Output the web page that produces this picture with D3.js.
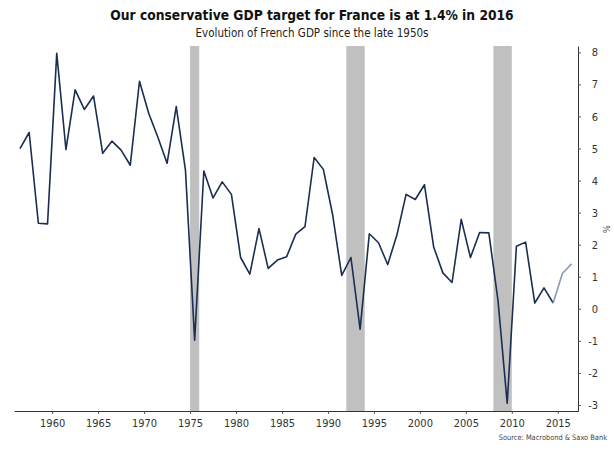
<!DOCTYPE html>
<html>
<head>
<meta charset="utf-8">
<script src="https://cdn.jsdelivr.net/npm/d3@7"></script>
<style>
  body { margin: 0; background: #fff; }
  text { font-family: "DejaVu Sans Condensed", "DejaVu Sans", sans-serif; }
</style>
</head>
<body>
<div id="chart"></div>
<script>
// annual French GDP growth, %
var years = d3.range(1956, 2017);
var gdp = [5.0, 5.5, 2.67, 2.65, 7.97, 4.97, 6.83, 6.22, 6.64, 4.85,
           5.23, 4.95, 4.48, 7.1, 6.1, 5.35, 4.54, 6.31, 4.33, -0.98,
           4.3, 3.46, 3.96, 3.57, 1.6, 1.08, 2.5, 1.26, 1.52, 1.62,
           2.33, 2.56, 4.72, 4.35, 2.95, 1.04, 1.6, -0.64, 2.34, 2.06,
           1.38, 2.3, 3.57, 3.41, 3.87, 1.93, 1.12, 0.82, 2.79, 1.6,
           2.38, 2.37, 0.25, -2.95, 1.95, 2.08, 0.18, 0.65, 0.18, 1.1,
           1.4];
// years from 2014 on are the target (lighter line)
var forecastFrom = 2014;
// recession bands [start, end]
var recessions = [[1975, 1976], [1992, 1994], [2008, 2010]];
var xTicks = [1960, 1965, 1970, 1975, 1980, 1985, 1990, 1995, 2000, 2005, 2010, 2015];
var yTicks = [-3, -2, -1, 0, 1, 2, 3, 4, 5, 6, 7, 8];

var W = 614, H = 450;
var svg = d3.select("#chart").append("svg")
    .attr("width", W)
    .attr("height", H);

var x = d3.scaleLinear()
    .domain([1955.85, 2017.2])
    .range([14, 578]);
var y = d3.scaleLinear()
    .domain([-3.19, 8.2])
    .range([411, 46]);

var data = years.map(function(yr, i) { return {year: yr, v: gdp[i]}; });

// recession shading
svg.append("g")
  .selectAll("rect")
  .data(recessions)
  .enter().append("rect")
    .attr("x", function(d) { return x(d[0]); })
    .attr("width", function(d) { return x(d[1]) - x(d[0]); })
    .attr("y", y.range()[1])
    .attr("height", y.range()[0] - y.range()[1])
    .attr("fill", "#c0c0c0");

// points sit in the middle of each year
var line = d3.line()
    .x(function(d) { return x(d.year + 0.5); })
    .y(function(d) { return y(d.v); });

svg.append("path")
    .datum(data.filter(function(d) { return d.year <= forecastFrom; }))
    .attr("fill", "none")
    .attr("stroke", "#1b2d52")
    .attr("stroke-width", 1.6)
    .attr("stroke-linejoin", "round")
    .attr("d", line);

svg.append("path")
    .datum(data.filter(function(d) { return d.year >= forecastFrom; }))
    .attr("fill", "none")
    .attr("stroke", "#8a9bb3")
    .attr("stroke-width", 1.6)
    .attr("stroke-linejoin", "round")
    .attr("d", line);

// x axis
var gx = svg.append("g")
    .attr("transform", "translate(0," + y.range()[0] + ")")
    .call(d3.axisBottom(x).tickValues(xTicks).tickSize(3).tickSizeOuter(0)
      .tickFormat(function(d) { return String(d); }));
gx.select(".domain").attr("stroke", "#333");
gx.selectAll(".tick line").attr("stroke", "#555");
gx.selectAll(".tick text")
    .attr("y", 8)
    .style("font-size", "11px")
    .attr("fill", "#333");

// y axis on the right
var gy = svg.append("g")
    .attr("transform", "translate(" + x.range()[1] + ",0)")
    .call(d3.axisRight(y).tickValues(yTicks).tickSize(3).tickSizeOuter(0)
      .tickFormat(function(d) { return String(d); }));
gy.select(".domain").attr("stroke", "#333");
gy.selectAll(".tick line").attr("stroke", "#555");
gy.selectAll(".tick text")
    .attr("x", 20)
    .attr("text-anchor", "end")
    .style("font-size", "11px")
    .attr("fill", "#333");

svg.append("text")
    .attr("transform", "translate(603,229) rotate(90)")
    .attr("text-anchor", "middle")
    .style("font-size", "9px")
    .attr("fill", "#333")
    .text("%");

// titles
svg.append("text")
    .attr("x", 312)
    .attr("y", 20)
    .attr("text-anchor", "middle")
    .style("font-size", "13.7px")
    .style("font-weight", "bold")
    .attr("fill", "#111")
    .text("Our conservative GDP target for France is at 1.4% in 2016");

svg.append("text")
    .attr("x", 312)
    .attr("y", 37)
    .attr("text-anchor", "middle")
    .style("font-size", "11.5px")
    .attr("fill", "#222")
    .text("Evolution of French GDP since the late 1950s");

svg.append("text")
    .attr("x", 607)
    .attr("y", 440)
    .attr("text-anchor", "end")
    .style("font-size", "7.4px")
    .attr("fill", "#444")
    .text("Source: Macrobond & Saxo Bank");
</script>
</body>
</html>
